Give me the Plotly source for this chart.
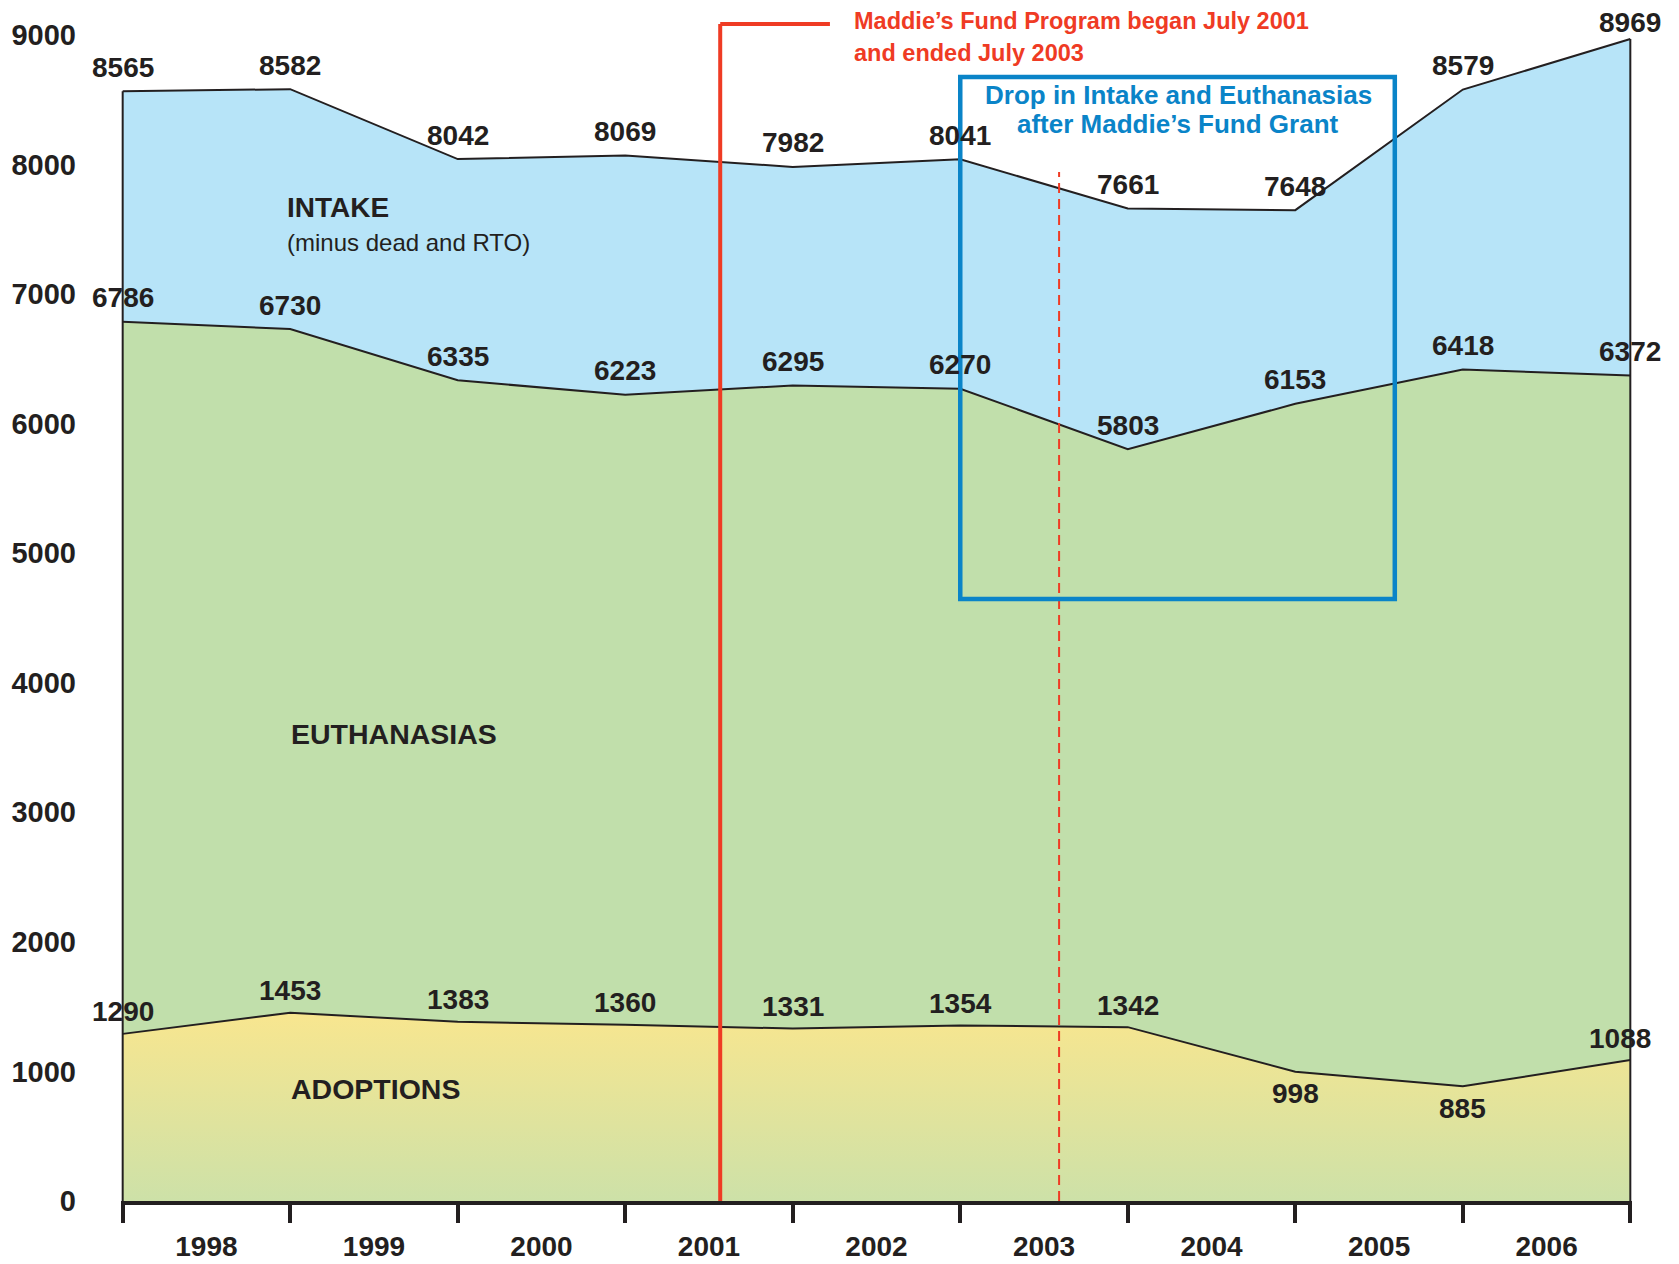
import plotly.graph_objects as go

# ---------------- data ----------------
years = ["1998", "1999", "2000", "2001", "2002", "2003", "2004", "2005", "2006"]
intake = [8565, 8582, 8042, 8069, 7982, 8041, 7661, 7648, 8579, 8969]
euthanasias = [6786, 6730, 6335, 6223, 6295, 6270, 5803, 6153, 6418, 6372]
adoptions = [1290, 1453, 1383, 1360, 1331, 1354, 1342, 998, 885, 1088]
adoption_label_side = ["above"] * 7 + ["below", "below", "above"]
y_ticks = list(range(0, 9001, 1000))

# ---------------- geometry / style ----------------
PAGE_OFF = 8                      # default body margin of the html page
W, H = 1679 - PAGE_OFF, 1264 - PAGE_OFF
# plot area in page pixels
L, R, T, B = 121, 1632, 35, 1201
INK = "#231f20"
BLUE_FILL = "#b7e4f8"
GREEN_FILL = "#c1dfab"
RED = "#ef3b24"
BLUE = "#0a84c8"
FONT = "Liberation Sans, Arial, sans-serif"

xs = list(range(len(intake)))


def px(x):
    return (x - L) / (R - L)


def py(y):
    return (B - y) / (B - T)


fig = go.Figure()

fig.add_trace(go.Scatter(
    x=xs, y=intake, mode="lines", fill="tozeroy", fillcolor=BLUE_FILL,
    line=dict(color=INK, width=2), hoverinfo="skip", showlegend=False))
fig.add_trace(go.Scatter(
    x=xs, y=euthanasias, mode="lines", fill="tozeroy", fillcolor=GREEN_FILL,
    line=dict(color=INK, width=2), hoverinfo="skip", showlegend=False))
fig.add_trace(go.Scatter(
    x=xs, y=adoptions, mode="lines", fill="tozeroy",
    fillgradient=dict(type="vertical", start=0, stop=max(adoptions),
                      colorscale=[[0, "#cde1a8"], [1, "#f8e68f"]]),
    line=dict(color=INK, width=2), hoverinfo="skip", showlegend=False))

# side edges of the stacked area
fig.add_shape(type="line", xref="x", yref="y", x0=xs[0], x1=xs[0], y0=0, y1=intake[0],
              line=dict(color=INK, width=2))
fig.add_shape(type="line", xref="x", yref="y", x0=xs[-1], x1=xs[-1], y0=0, y1=intake[-1],
              line=dict(color=INK, width=2))


# value labels
def add_labels(vals, sides=None, yshift=24, last_yshift=None, last_xshift=0):
    for i, v in enumerate(vals):
        side = sides[i] if sides else "above"
        ys = yshift
        xsft = 0
        if i == len(vals) - 1:
            if last_yshift is not None:
                ys = last_yshift
            xsft = last_xshift
        fig.add_annotation(
            x=xs[i], y=v, xref="x", yref="y", text=str(v), showarrow=False,
            yshift=ys if side == "above" else -ys, xshift=xsft,
            font=dict(family=FONT, size=28, color=INK, weight="bold"))


add_labels(intake, last_yshift=17)
add_labels(euthanasias)
add_labels(adoptions, adoption_label_side, yshift=22, last_xshift=-10)

# area captions
fig.add_annotation(x=px(285), y=py(207), xref="paper", yref="paper", text="INTAKE",
                   showarrow=False, xanchor="left", yanchor="middle",
                   font=dict(family=FONT, size=28, color=INK, weight="bold"))
fig.add_annotation(x=px(285), y=py(242), xref="paper", yref="paper",
                   text="(minus dead and RTO)", showarrow=False, xanchor="left", yanchor="middle",
                   font=dict(family=FONT, size=24, color=INK))
fig.add_annotation(x=px(289), y=py(734), xref="paper", yref="paper", text="EUTHANASIAS",
                   showarrow=False, xanchor="left", yanchor="middle",
                   font=dict(family=FONT, size=28.5, color=INK, weight="bold"))
fig.add_annotation(x=px(289), y=py(1089), xref="paper", yref="paper", text="ADOPTIONS",
                   showarrow=False, xanchor="left", yanchor="middle",
                   font=dict(family=FONT, size=28.5, color=INK, weight="bold"))

# Maddie's Fund program start (red bracket line) and end (dashed)
start_x = 3.567
end_x = 5.59
top_y = py(24)
fig.add_shape(type="line", xref="x", yref="paper", x0=start_x, x1=start_x, y0=0, y1=top_y,
              line=dict(color=RED, width=4))
fig.add_shape(type="line", xref="x", yref="paper", x0=start_x, x1=4.222, y0=top_y, y1=top_y,
              line=dict(color=RED, width=4))
fig.add_shape(type="line", xref="x", yref="paper", x0=end_x, x1=end_x, y0=0, y1=py(172),
              line=dict(color=RED, width=2, dash="10px,6px"))
fig.add_annotation(x=px(852), y=py(21), xref="paper", yref="paper",
                   text="Maddie\u2019s Fund Program began July 2001", showarrow=False,
                   xanchor="left", yanchor="middle",
                   font=dict(family=FONT, size=23.5, color=RED, weight="bold"))
fig.add_annotation(x=px(852), y=py(53), xref="paper", yref="paper",
                   text="and ended July 2003", showarrow=False,
                   xanchor="left", yanchor="middle",
                   font=dict(family=FONT, size=23.5, color=RED, weight="bold"))

# blue highlight box
fig.add_shape(type="rect", xref="x", yref="paper", x0=5.0, x1=7.594, y0=py(599), y1=py(77),
              line=dict(color=BLUE, width=4.5), fillcolor="rgba(0,0,0,0)")
fig.add_annotation(x=px(1178), y=py(95), xref="paper", yref="paper",
                   text="Drop in Intake and Euthanasias", showarrow=False,
                   xanchor="center", yanchor="middle",
                   font=dict(family=FONT, size=26, color=BLUE, weight="bold"))
fig.add_annotation(x=px(1178), y=py(124), xref="paper", yref="paper",
                   text="after Maddie\u2019s Fund Grant", showarrow=False,
                   xanchor="center", yanchor="middle",
                   font=dict(family=FONT, size=26, color=BLUE, weight="bold"))

fig.update_layout(
    width=W, height=H,
    margin=dict(l=L - PAGE_OFF, r=W - (R - PAGE_OFF), t=T - PAGE_OFF, b=H - (B - PAGE_OFF), pad=0),
    paper_bgcolor="white", plot_bgcolor="white",
    showlegend=False,
    xaxis=dict(
        range=[-0.01, len(xs) - 1 + 0.01],
        tickmode="array", tickvals=[i + 0.5 for i in range(len(years))], ticktext=years,
        ticks="", showgrid=False, zeroline=False,
        showline=True, linewidth=4, linecolor=INK,
        minor=dict(tickmode="array", tickvals=xs, ticks="outside", ticklen=18,
                   tickwidth=4, tickcolor=INK, showgrid=False),
        ticklabelstandoff=17,
        tickfont=dict(family=FONT, size=28, color=INK, weight="bold"),
        automargin=False, fixedrange=True),
    yaxis=dict(
        range=[0, 9000], tickmode="array", tickvals=y_ticks,
        ticktext=[str(v) for v in y_ticks],
        ticks="", showgrid=False, zeroline=False, showline=False,
        ticklabelstandoff=44,
        tickfont=dict(family=FONT, size=29, color=INK, weight="bold"),
        automargin=False, fixedrange=True),
)

fig.write_html("out.html")
